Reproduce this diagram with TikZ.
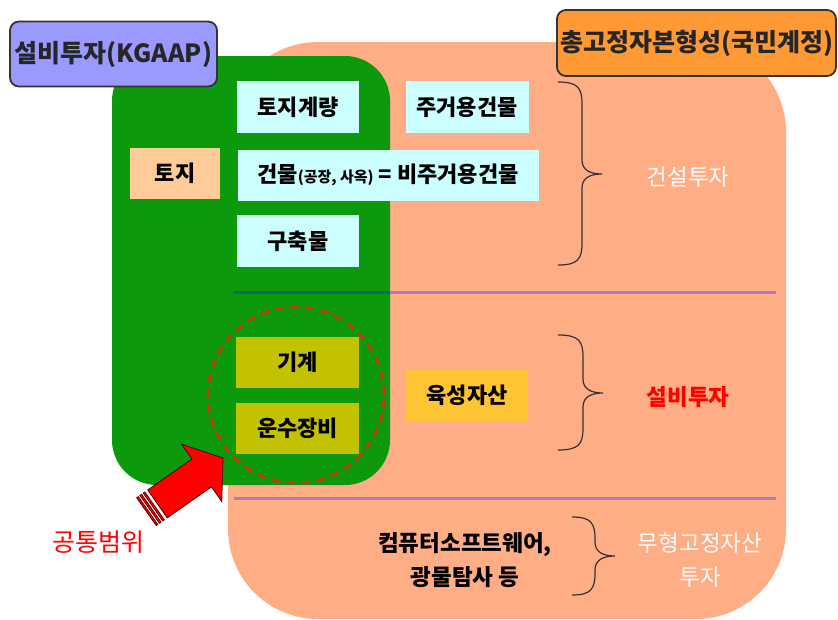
\documentclass[tikz,border=0pt]{standalone}
\usepackage{fontspec}
\setmainfont{Noto Sans CJK KR}
\definecolor{salmonc}{HTML}{FFAD85}
\definecolor{greenc}{HTML}{0C9A0C}
\definecolor{cyanc}{HTML}{CCFFFF}
\definecolor{peachc}{HTML}{FFCC99}
\definecolor{olivec}{HTML}{C2C200}
\definecolor{yellowc}{HTML}{FFC433}
\definecolor{bluet}{HTML}{9999FF}
\definecolor{oranget}{HTML}{FF9933}
\definecolor{purplel}{HTML}{B27ABD}
\definecolor{tealline}{HTML}{0D6B66}
\definecolor{circc}{HTML}{CC3311}
\definecolor{bracec}{HTML}{333333}
\newcommand{\kbrace}[6]{%
  \draw[bracestyle] (#1,#4) .. controls ({#2-4},#4) and (#2,{#4+6}) .. (#2,{#4+22})
    -- (#2,{#5-14}) .. controls (#2,{#5-4}) and ({#2+8},#5) .. (#3,#5)
    .. controls ({#2+8},#5) and (#2,{#5+4}) .. (#2,{#5+14})
    -- (#2,{#6-22}) .. controls (#2,{#6-6}) and ({#2-4},#6) .. (#1,#6);}
\begin{document}
\begin{tikzpicture}[x=1pt,y=-1pt,
  bx/.style={minimum width=122pt, minimum height=52pt, inner sep=0pt,
     font=\fontsize{22}{26}\selectfont\bfseries, text=black},
  cbox/.style={bx, fill=cyanc},
  obox/.style={bx, fill=olivec},
  title/.style={draw=bracec, line width=1.8pt, rounded corners=9pt, inner sep=0pt,
     font=\fontsize{25}{28}\selectfont\bfseries, text=black!85},
  bracestyle/.style={draw=bracec, line width=1.2pt},
  side/.style={font=\fontsize{22.5}{26}\selectfont},
]
\useasboundingbox (0,0) rectangle (838,619);
% background regions
\fill[salmonc, rounded corners=90pt] (228,42) rectangle (786,619);
\fill[greenc, rounded corners=45pt] (112,56) rectangle (390,485);
% separators
\coordinate (s1a) at (234,292);
\coordinate (s1b) at (390,292);
\coordinate (s1c) at (776,292);
\coordinate (s2a) at (234,498);
\coordinate (s2b) at (776,498);
\draw[tealline, line width=3pt] (s1a) -- (s1b);
\draw[purplel, line width=3pt] (s1b) -- (s1c);
\draw[purplel, line width=3pt] (s2a) -- (s2b);
% boxes
\node[cbox] (tjg) at (298,107) {토지계량};
\node[cbox, minimum width=123pt] (jgy) at (467,107) {주거용건물};
\node[bx, fill=peachc, minimum width=90pt, minimum height=51pt] (tj) at (175,173) {토지};
\node[cbox, minimum width=301pt, minimum height=51pt] (gm) at (388,175)
   {건물{\fontsize{15}{14}\selectfont (공장, 사옥)} = 비주거용건물};
\node[cbox] (gcm) at (298,241) {구축물};
\node[obox, minimum width=123pt, minimum height=51pt] (gg) at (297.5,362.5) {기계};
\node[obox, minimum width=123pt, minimum height=51pt] (us) at (297.5,428.5) {운수장비};
\node[bx, fill=yellowc, minimum height=51pt] (ys) at (467,395.5) {육성자산};
% common range circle
\draw[circc, line width=2.6pt, dash pattern=on 9pt off 6pt] (296,395) circle (88pt);
% braces
\kbrace{558}{582}{602}{82}{174}{265}
\kbrace{558}{583}{603}{335}{393}{450}
\kbrace{572}{595}{615}{517}{556}{595}
% side labels
\node[side, text=white] (gst) at (688,177) {건설투자};
\node[side, text=red, font=\fontsize{22.5}{26}\selectfont\bfseries] (sbt) at (688,397) {설비투자};
\node[side, text=white, align=center, font=\fontsize{22.5}{34}\selectfont] (mh) at (700,560) {무형고정자산\\투자};
\node[align=center, font=\fontsize{22.5}{34}\selectfont\bfseries] (sw) at (465,560) {컴퓨터소프트웨어,\\광물탐사 등};
% arrow
\begin{scope}[shift={(223,458)}, rotate=35]
  \filldraw[fill=red, draw=black!70!red, line width=0.8pt]
    (0,0) -- (-26,35) -- (-26,17) -- (-80,17) -- (-80,-17) -- (-26,-17) -- (-26,-35) -- cycle;
  \foreach \s in {-83.5,-87.5,-91.5}
    \filldraw[fill=red, draw=black!60!red, line width=0.8pt] (\s,17) rectangle ({\s-2},-17);
\end{scope}
\node[text=red, font=\fontsize{25}{28}\selectfont] (gtb) at (98,542) {공통범위};
% titles
\node[title, fill=bluet, minimum width=207pt, minimum height=65pt] (t1) at (113.5,54) {설비투자(KGAAP)};
\node[title, fill=oranget, minimum width=279pt, minimum height=66pt] (t2) at (696.5,43) {총고정자본형성(국민계정)};
\end{tikzpicture}
\end{document}
